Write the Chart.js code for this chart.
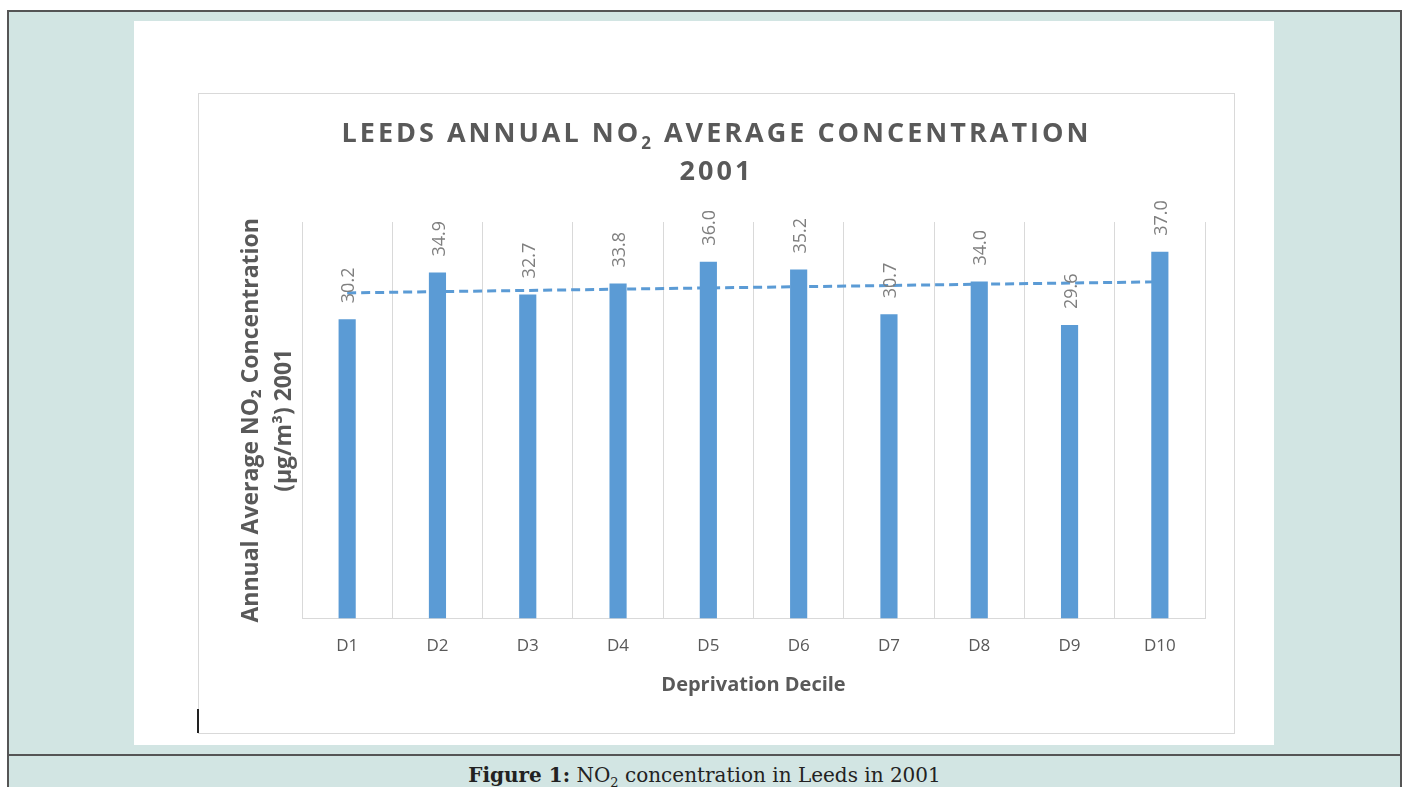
<!DOCTYPE html>
<html lang="en">
<head>
<meta charset="utf-8">
<title>Leeds annual NO2 average concentration 2001</title>
<script src="https://cdn.jsdelivr.net/npm/chart.js@4.4.1/dist/chart.umd.min.js"></script>
<style>
  html, body { margin: 0; padding: 0; background: #ffffff; overflow: hidden; }
  body { width: 1405px; height: 787px; position: relative; }
  .frame {
    position: absolute; left: 7px; top: 10px; width: 1395px; height: 800px;
    box-sizing: border-box; border: 2px solid #555555; background: #d2e5e3;
  }
  .panel { position: absolute; left: 134px; top: 21px; width: 1140px; height: 724px; background: #ffffff; }
  .chart-box {
    position: absolute; left: 198px; top: 93px; width: 1037px; height: 641px;
    box-sizing: border-box; border: 1px solid #d9d9d9; background: #ffffff;
  }
  .chart-box canvas { position: absolute; left: 0; top: 0; }
  .chart-title {
    position: absolute; left: 198px; top: 113px; width: 1037px; text-align: center;
    font-family: 'Open Sans', sans-serif; font-weight: 700; font-size: 27px;
    line-height: 38px; letter-spacing: 3px; color: #595959;
  }
  .chart-title .sub { font-size: 17px; position: relative; top: 7px; line-height: 0; letter-spacing: 3px; }
  .cursor { position: absolute; left: 197px; top: 709px; width: 2px; height: 24px; background: #222222; }
  .divider { position: absolute; left: 7px; top: 754px; width: 1395px; height: 2px; background: #555555; }
  .caption {
    position: absolute; left: 7px; top: 763px; width: 1395px; text-align: center;
    font-family: 'DejaVu Serif', serif; font-size: 20px; line-height: 24px; color: #222222;
  }
  .caption sub { font-size: 13px; line-height: 0; }
</style>
</head>
<body>
  <div class="frame"></div>
  <div class="panel"></div>
  <div class="chart-box"><canvas id="no2Chart" width="1035" height="639"></canvas></div>
  <div class="chart-title">LEEDS ANNUAL NO<span class="sub">2</span> AVERAGE CONCENTRATION<br>2001</div>
  <div class="cursor"></div>
  <div class="divider"></div>
  <div class="caption"><b>Figure 1:</b> NO<sub>2</sub> concentration in Leeds in 2001</div>

<script>
(function () {
  'use strict';

  const DECILES = ['D1', 'D2', 'D3', 'D4', 'D5', 'D6', 'D7', 'D8', 'D9', 'D10'];
  const NO2_VALUES = [30.2, 34.9, 32.7, 33.8, 36.0, 35.2, 30.7, 34.0, 29.6, 37.0];
  const Y_RANGE = [0, 40];

  const BAR_COLOR = '#5b9bd5';
  const GRID_COLOR = '#d9d9d9';
  const TEXT_COLOR = '#595959';
  const LABEL_COLOR = '#7f7f7f';

  // linear trendline (least squares over the decile index), like Excel's
  function linearTrend(values) {
    const n = values.length;
    const xs = values.map((_, i) => i + 1);
    const mx = xs.reduce((a, b) => a + b, 0) / n;
    const my = values.reduce((a, b) => a + b, 0) / n;
    let num = 0;
    let den = 0;
    xs.forEach((x, i) => {
      num += (x - mx) * (values[i] - my);
      den += (x - mx) * (x - mx);
    });
    const slope = num / den;
    return xs.map((x) => my + slope * (x - mx));
  }

  const barLabels = {
    id: 'barLabels',
    afterDatasetsDraw(chart) {
      const meta = chart.getDatasetMeta(0);
      const ctx = chart.ctx;
      ctx.save();
      ctx.fillStyle = LABEL_COLOR;
      ctx.font = '18px "Open Sans", sans-serif';
      ctx.textAlign = 'left';
      ctx.textBaseline = 'middle';
      meta.data.forEach((bar, i) => {
        ctx.save();
        ctx.translate(bar.x + 2, bar.y - 16);
        ctx.rotate(-Math.PI / 2);
        ctx.fillText(NO2_VALUES[i].toFixed(1), 0, 0);
        ctx.restore();
      });
      ctx.restore();
    }
  };

  const canvas = document.getElementById('no2Chart');

  new Chart(canvas.getContext('2d'), {
    data: {
      labels: DECILES,
      datasets: [
        {
          type: 'bar',
          label: 'NO2',
          data: NO2_VALUES,
          backgroundColor: BAR_COLOR,
          borderWidth: 0,
          categoryPercentage: 1,
          barPercentage: 0.19,
          order: 0
        },
        {
          type: 'line',
          label: 'Linear trend',
          data: linearTrend(NO2_VALUES),
          borderColor: BAR_COLOR,
          borderWidth: 3,
          borderDash: [9, 5],
          pointRadius: 0,
          fill: false,
          tension: 0,
          order: 1
        }
      ]
    },
    options: {
      responsive: false,
      animation: false,
      devicePixelRatio: 1,
      layout: { padding: { top: 128, right: 29, bottom: 20, left: 36 } },
      scales: {
        x: {
          offset: true,
          grid: { display: true, offset: true, color: GRID_COLOR, drawTicks: false },
          border: { display: true, color: GRID_COLOR, width: 1 },
          ticks: {
            color: TEXT_COLOR,
            padding: 17,
            font: { family: 'Open Sans', size: 17 }
          },
          title: {
            display: true,
            text: 'Deprivation Decile',
            color: TEXT_COLOR,
            font: { family: 'Open Sans', size: 20, weight: 'bold', lineHeight: 1.2 },
            padding: { top: 0, bottom: 16 }
          }
        },
        y: {
          min: Y_RANGE[0],
          max: Y_RANGE[1],
          grid: { display: false, drawTicks: false },
          border: { display: false },
          ticks: { display: false },
          title: {
            display: true,
            text: ['Annual Average NO\u2082 Concentration', '(\u00b5g/m\u00b3) 2001'],
            color: TEXT_COLOR,
            font: { family: 'Open Sans', size: 23, weight: 'bold', lineHeight: 1.435 },
            padding: { top: 0, bottom: 1 }
          }
        }
      },
      plugins: {
        legend: { display: false },
        tooltip: { enabled: false }
      }
    },
    plugins: [barLabels]
  });
})();
</script>
</body>
</html>
